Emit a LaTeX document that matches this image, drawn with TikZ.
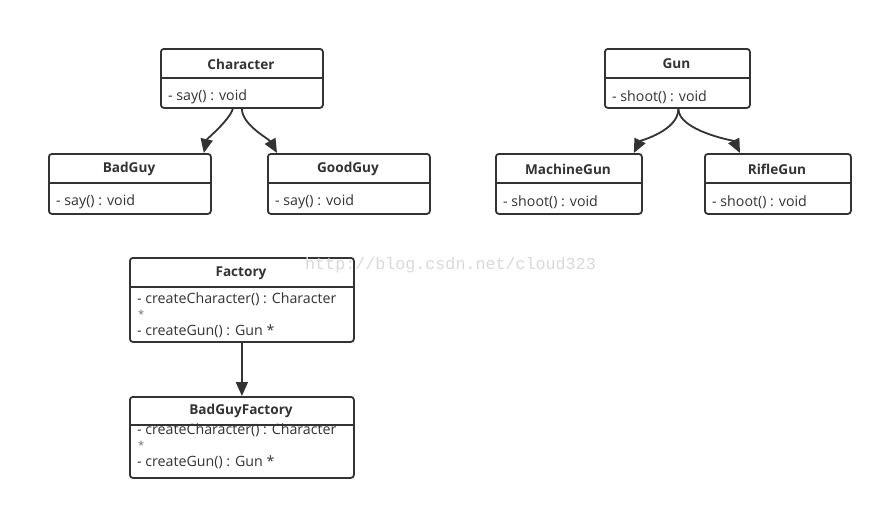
\documentclass[tikz,border=0pt]{standalone}
\usepackage{fontspec}
\setmainfont{Open Sans}
\newfontfamily\wmfont{Liberation Mono}
\usetikzlibrary{arrows.meta}
\definecolor{ink}{HTML}{333333}
\begin{document}
\begin{tikzpicture}[x=1pt,y=-1pt,
  umlbox/.style={draw=ink, line width=1.8pt, rounded corners=3pt, fill=white, inner sep=0pt, anchor=north west},
  title/.style={font=\fontsize{13.6}{15}\selectfont\bfseries, text=ink, inner sep=0pt},
  member/.style={font=\fontsize{14.2}{16}\selectfont, text=ink, inner sep=0pt, anchor=west},
  star/.style={font=\fontsize{11}{12}\selectfont, text=ink!70, inner sep=0pt, anchor=west},
  divider/.style={draw=ink, line width=1.8pt},
  conn/.style={draw=ink, line width=1.8pt, -{Triangle[length=14pt,width=12pt]}}]
\useasboundingbox (0,0) rectangle (882,509);
\fill[white] (0,0) rectangle (882,509);

% Character
\node[umlbox, minimum width=162, minimum height=59] (char) at (160,48) {};
\draw[divider] (160,78) -- (322,78);
\node[title] (charT) at (241,64) {Character};
\node[member] (charM) at (168,97) {- say() : void};

% BadGuy
\node[umlbox, minimum width=162, minimum height=60] (bad) at (48,153) {};
\draw[divider] (48,183) -- (210,183);
\node[title] (badT) at (129,169) {BadGuy};
\node[member] (badM) at (56,202) {- say() : void};

% GoodGuy
\node[umlbox, minimum width=162, minimum height=60] (good) at (267,153) {};
\draw[divider] (267,183) -- (429,183);
\node[title] (goodT) at (348,169) {GoodGuy};
\node[member] (goodM) at (275,202) {- say() : void};

% Gun
\node[umlbox, minimum width=145, minimum height=59] (gun) at (604,48) {};
\draw[divider] (604,78) -- (749,78);
\node[title] (gunT) at (676.5,64) {Gun};
\node[member] (gunM) at (612,97) {- shoot() : void};

% MachineGun
\node[umlbox, minimum width=146, minimum height=60] (mg) at (495,153) {};
\draw[divider] (495,183) -- (641,183);
\node[title] (mgT) at (568,169) {MachineGun};
\node[member] (mgM) at (503,202) {- shoot() : void};

% RifleGun
\node[umlbox, minimum width=146, minimum height=60] (rg) at (704,153) {};
\draw[divider] (704,183) -- (850,183);
\node[title] (rgT) at (777,169) {RifleGun};
\node[member] (rgM) at (712,202) {- shoot() : void};

% Factory
\node[umlbox, minimum width=224, minimum height=84] (fac) at (129,257) {};
\draw[divider] (129,287) -- (353,287);
\node[title] (facT) at (241,273) {Factory};
\node[member] (facM1) at (137,299) {- createCharacter() : Character};
\node[star] (facM2) at (138,314) {*};
\node[member] (facM3) at (137,331) {- createGun() : Gun *};

% BadGuyFactory
\node[umlbox, minimum width=224, minimum height=81] (bgf) at (129,396) {};
\node[member] (bgfM1) at (137,430) {- createCharacter() : Character};
\draw[divider] (129,425) -- (353,425);
\node[title] (bgfT) at (241,411) {BadGuyFactory};
\node[star] (bgfM2) at (138,445) {*};
\node[member] (bgfM3) at (137,462) {- createGun() : Gun *};

% watermark
\node[font=\wmfont\fontsize{16.7}{18}\selectfont, text=black!15, inner sep=0pt, anchor=west] (wm) at (305,265) {http://blog.csdn.net/cloud323};

% connectors
\draw[conn] ([xshift=-9pt]char.south) .. controls +(-4,12) and +(3,-14) .. ([xshift=-8pt]bad.north east);
\draw[conn] (char.south) .. controls +(0,16) and +(-8,-14) .. ([xshift=10pt]good.north west);
\draw[conn] ([xshift=1pt]gun.south) .. controls +(0,22) and +(6,-12) .. ([xshift=-9pt]mg.north east);
\draw[conn] ([xshift=1pt]gun.south) .. controls +(0,22) and +(-6,-12) .. ([xshift=36pt]rg.north west);
\draw[conn] (fac.south) -- (bgf.north);
\end{tikzpicture}
\end{document}
